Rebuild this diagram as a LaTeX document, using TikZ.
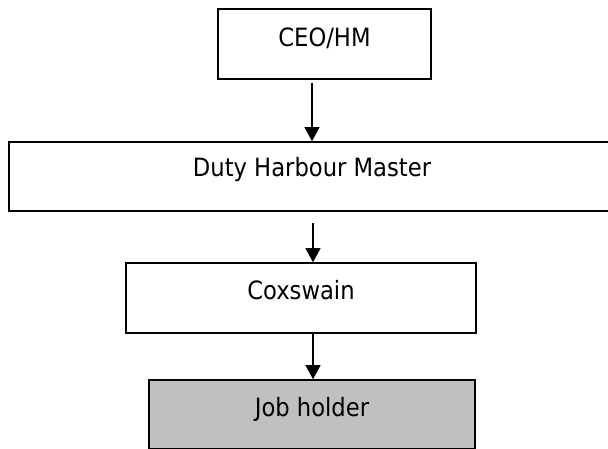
\documentclass[tikz,border=0pt]{standalone}
\usepackage{fontspec}
\setmainfont{DejaVu Sans Condensed}
\usetikzlibrary{arrows.meta}
\tikzset{
  box/.style={draw=black, line width=1.6pt, inner sep=0pt, fill=white},
  jobbox/.style={box, fill=jobgray},
  lbl/.style={anchor=base, inner sep=0pt, font=\fontsize{25.2}{30}\selectfont},
  arr/.style={line width=1.2pt, -{Triangle[length=14pt, width=15pt]}}
}
\definecolor{jobgray}{RGB}{192,192,192}
\begin{document}
\begin{tikzpicture}[x=1pt, y=-1pt]
\useasboundingbox (0,0) rectangle (608,449);
% boxes
\node[box, minimum width=213pt, minimum height=70pt] (ceo) at (324.5,44) {};
\node[box, minimum width=606pt, minimum height=69pt] (dhm) at (312,176.5) {};
\node[box, minimum width=350pt, minimum height=70pt] (cox) at (301,298) {};
\node[jobbox, minimum width=326pt, minimum height=69pt] (job) at (312,414.5) {};
% labels
\node[lbl] (tceo) at (324.5,46.5) {CEO/HM};
\node[lbl] (tdhm) at (312,176.7) {Duty Harbour Master};
\node[lbl] (tcox) at (301,299.3) {Coxswain};
\node[lbl] (tjob) at (312,416) {Job holder};
% connectors
\coordinate (s1) at (312,83);
\coordinate (s2) at (313,223);
\coordinate (s3) at (313,333);
\draw[arr] (s1) -- (s1 |- dhm.north);
\draw[arr] (s2) -- (s2 |- cox.north);
\draw[arr] (s3) -- (s3 |- job.north);
\end{tikzpicture}
\end{document}
